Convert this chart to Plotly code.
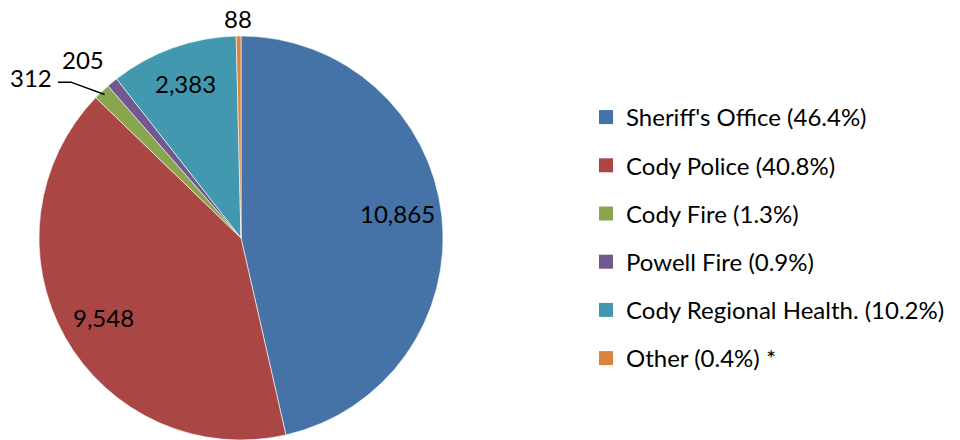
import math
import plotly.graph_objects as go

labels = ["Sheriff's Office", "Cody Police", "Cody Fire", "Powell Fire",
          "Cody Regional Health.", "Other"]
values = [10865, 9548, 312, 205, 2383, 88]
legend_suffix = ["", "", "", "", "", " *"]
colors = ["#4572A7", "#AA4643", "#89A54E", "#71588F", "#4198AF", "#DB843D"]

# label placement (radius as fraction of pie radius, angle nudge in degrees)
label_r = [0.785, 0.785, 1.31, 1.18, 0.81, 1.085]
label_nudge = [-2.5, -0.5, -9.0, -2.0, 0.0, 0.0]

FONT = "Lato"
W, H = 960, 440
CX, CY, R = 233, 230, 202  # pie centre / radius in figure pixels
total = sum(values)

fig = go.Figure()
fig.add_trace(go.Pie(
    labels=labels, values=values, sort=False, direction="clockwise", rotation=0,
    marker=dict(colors=colors, line=dict(color="white", width=0.6)),
    textinfo="none", showlegend=False, hoverinfo="label+value+percent",
    domain=dict(x=[(CX - R) / W, (CX + R) / W], y=[(H - CY - R) / H, (H - CY + R) / H]),
))

cum = 0
for i, v in enumerate(values):
    mid = (cum + v / 2) / total * 360
    cum += v
    a = math.radians(mid + label_nudge[i])
    px = CX + label_r[i] * R * math.sin(a)
    py = CY - label_r[i] * R * math.cos(a)
    fig.add_annotation(x=px / W, y=1 - py / H, xref="paper", yref="paper",
                       xanchor="center", yanchor="middle",
                       text=f"{v:,}", showarrow=False,
                       font=dict(family=FONT, size=24, color="black"))
    if i == 2:
        am = math.radians(mid)
        ex = CX + 0.98 * R * math.sin(am)
        ey = CY - 0.98 * R * math.cos(am)
        sx, sy = px + 27, py + 5
        fig.add_shape(type="path", xref="paper", yref="paper",
                      path=f"M {sx / W},{1 - sy / H} L {(sx + 13) / W},{1 - sy / H} L {ex / W},{1 - ey / H}",
                      line=dict(color="black", width=1.5))

for i, (lab, v, c) in enumerate(zip(labels, values, colors)):
    fig.add_trace(go.Scatter(
        x=[None], y=[None], mode="markers",
        marker=dict(symbol="square", size=14, color=c),
        name=f"{lab} ({v/total*100:.1f}%){legend_suffix[i]}",
        legendgroup=f"g{i}", showlegend=True,
    ))

fig.update_layout(
    width=W, height=H, margin=dict(l=0, r=0, t=0, b=0),
    paper_bgcolor="white", plot_bgcolor="white",
    xaxis=dict(visible=False), yaxis=dict(visible=False),
    font=dict(family=FONT, size=24, color="black"),
    legend=dict(x=578 / W, y=1 - 87 / H, xanchor="left", yanchor="top",
                tracegroupgap=14, font=dict(family=FONT, size=24, color="black"),
                bgcolor="rgba(0,0,0,0)"),
)
fig.write_html("out.html")
